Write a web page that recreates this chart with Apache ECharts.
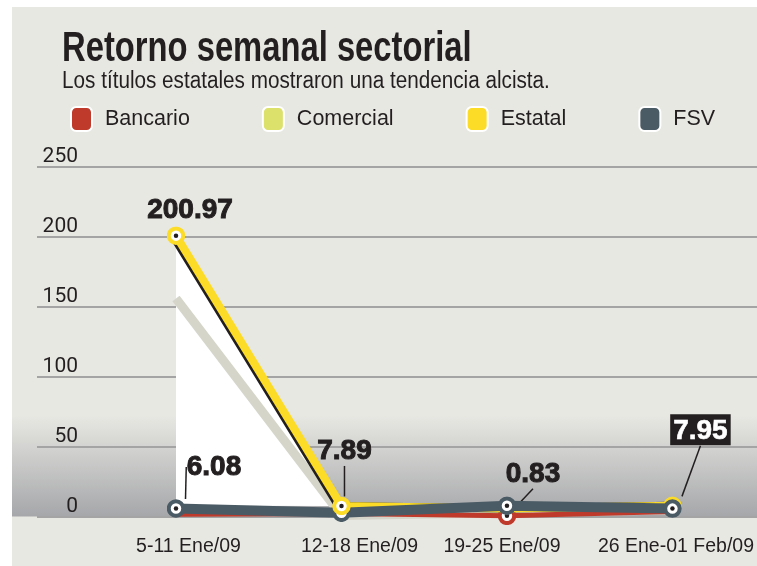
<!DOCTYPE html>
<html><head><meta charset="utf-8">
<script src="https://cdn.jsdelivr.net/npm/echarts@6/dist/echarts.min.js"></script>
<style>
html,body{margin:0;padding:0;background:#fff;}
#panel{position:absolute;left:12px;top:7px;right:0;bottom:0;
background:linear-gradient(to bottom,#e8e8e3 0px,#e8e8e3 408px,#a6a7aa 509px,#e8e8e3 510px,#e8e8e3 100%);}
#chart{position:absolute;left:0;top:0;width:757px;height:566px;}
</style></head>
<body><div id="panel"></div><div id="chart"></div>
<script>
const categories = ['5-11 Ene/09', '12-18 Ene/09', '19-25 Ene/09', '26 Ene-01 Feb/09'];
const bancario  = [2, 2.5, 0.83, 4];
const comercial = [156, 1, 3, 5];
const estatal   = [200.97, 7.89, 6, 7.95];
const fsv       = [6.08, 3, 8, 6];
const yMin = 0, yMax = 250, yStep = 50;
const titleText = 'Retorno semanal sectorial';
const subtitleText = 'Los títulos estatales mostraron una tendencia alcista.';

const INK = '#231f20';
const colors = {Bancario:'#bf3a2b', Comercial:'#dbe16a', Estatal:'#fcdc27', FSV:'#4b5b65'};

function ring(color){
  const svg = '<svg xmlns="http://www.w3.org/2000/svg" width="38" height="38" viewBox="0 0 38 38">' +
    '<circle cx="19" cy="19" r="14.5" fill="#fff" stroke="' + color + '" stroke-width="8"/>' +
    '<circle cx="19" cy="19" r="4.5" fill="' + INK + '"/></svg>';
  return 'image://data:image/svg+xml;charset=utf-8,' + encodeURIComponent(svg);
}
const numLabel = {
  show: true, position: 'top', formatter: '{c}', color: INK,
  fontFamily: 'Liberation Sans, Arial, sans-serif', fontWeight: 'bold', fontSize: 28,
  textBorderColor: INK, textBorderWidth: 1
};
function items(arr, opts){
  return arr.map((v, i) => {
    const s = opts[i] || {};
    if (s.hide) return '-';
    const o = {value: v};
    if (s.noSymbol) o.symbol = 'none';
    if (s.label) o.label = Object.assign({}, numLabel, s.label);
    if (s.noGuide) o.labelLine = {show: false};
    return o;
  });
}
const shifts = {
  Estatal: {0:[14,3], 1:[3,-26], 3:[28,-46]},
  FSV: {0:[38,-13]},
  Bancario: {2:[26,-13]}
};
function layoutFor(name){
  return function(p){
    const s = shifts[name][p.dataIndex];
    return s ? {dx: s[0], dy: s[1]} : {};
  };
}
const guide = {show: true, lineStyle: {color: INK, width: 1.5}};
const ringSize = 19;
const xFont = {fontFamily: 'Liberation Sans, Arial, sans-serif', fontSize: 19.5, color: INK};
const xRich = {
  c0: Object.assign({padding: [0,0,0,25]}, xFont),
  c1: Object.assign({padding: [0,0,0,36]}, xFont),
  c2: Object.assign({padding: [0,10,0,0]}, xFont),
  c3: Object.assign({padding: [0,0,0,7]}, xFont)
};

const chart = echarts.init(document.getElementById('chart'), null, {renderer: 'canvas'});
chart.setOption({
  animation: false,
  graphic: [
    {type: 'text', x: 62, y: 28, scaleX: 0.78, z: 10,
     style: {text: titleText, fill: INK, font: 'bold 42px "Liberation Sans", Arial, sans-serif', textVerticalAlign: 'top'}},
    {type: 'text', x: 62, y: 70, scaleX: 0.9, z: 10,
     style: {text: subtitleText, fill: INK, font: '23px "Liberation Sans", Arial, sans-serif', textVerticalAlign: 'top'}}
  ],
  legend: {
    left: 70, top: 106, icon: 'roundRect', itemWidth: 21, itemHeight: 24, itemGap: 72, padding: 0,
    itemStyle: {borderColor: '#fff', borderWidth: 2},
    textStyle: {fontFamily: 'Liberation Sans, Arial, sans-serif', fontSize: 21.5, color: INK, padding: [0,0,0,8]},
    data: ['Bancario', 'Comercial', 'Estatal', 'FSV']
  },
  grid: [
    {left: 176, right: 84, top: 167, bottom: 49},
    {left: 37, right: 0, top: 167, bottom: 49}
  ],
  xAxis: [
    {type: 'category', gridIndex: 0, data: categories, boundaryGap: false,
     axisLine: {show: false}, axisTick: {show: false},
     axisLabel: Object.assign({interval: 0, margin: 20,
       formatter: (v, i) => '{c' + i + '|' + v + '}', rich: xRich}, xFont)},
    {type: 'value', gridIndex: 1, min: 0, max: 1, show: false}
  ],
  yAxis: [
    {type: 'value', gridIndex: 0, min: yMin, max: yMax, interval: yStep, show: false},
    {type: 'value', gridIndex: 1, min: yMin, max: yMax, interval: yStep,
     axisLine: {show: false}, axisTick: {show: false},
     splitLine: {show: true, lineStyle: {color: '#a4a4a4', width: 2}},
     axisLabel: {inside: true, margin: 41, align: 'right', verticalAlign: 'bottom', padding: [0,0,0,0],
       fontFamily: 'Roboto, Liberation Sans, sans-serif', fontSize: 21, color: INK}}
  ],
  series: [
    {name: 'EstatalArea', type: 'line', xAxisIndex: 0, yAxisIndex: 0, z: 1, silent: true,
     data: estatal.map((v, i) => i < 2 ? v : '-'), symbol: 'none',
     lineStyle: {width: 0}, areaStyle: {color: '#ffffff', opacity: 1, origin: 8}},
    {name: 'Comercial', type: 'line', xAxisIndex: 0, yAxisIndex: 0, z: 2, clip: false,
     data: comercial, symbol: 'none',
     itemStyle: {color: colors.Comercial}, lineStyle: {color: '#d5d5ca', width: 9}},
    {name: 'Bancario', type: 'line', xAxisIndex: 0, yAxisIndex: 0, z: 3, clip: false,
     data: items(bancario, {0:{noSymbol:1}, 1:{noSymbol:1}, 2:{label:{}}, 3:{noSymbol:1}}),
     symbol: ring(colors.Bancario), symbolSize: ringSize,
     itemStyle: {color: colors.Bancario}, lineStyle: {color: colors.Bancario, width: 5},
     labelLayout: layoutFor('Bancario'), labelLine: guide},
    {name: 'Estatal', type: 'line', xAxisIndex: 0, yAxisIndex: 0, z: 4, clip: false,
     data: items(estatal, {0:{noSymbol:1}, 1:{noSymbol:1}, 2:{noSymbol:1},
        3:{label:{color:'#fff', textBorderColor:'#fff', textBorderWidth:0.6, backgroundColor: INK, padding:[3,3,0,3], fontSize: 28}}}),
     symbol: ring(colors.Estatal), symbolSize: ringSize,
     itemStyle: {color: colors.Estatal},
     lineStyle: {color: colors.Estatal, width: 8, shadowColor: INK, shadowBlur: 0, shadowOffsetX: -3, shadowOffsetY: 0},
     labelLayout: layoutFor('Estatal'), labelLine: guide},
    {name: 'FSV', type: 'line', xAxisIndex: 0, yAxisIndex: 0, z: 5, clip: false,
     data: items(fsv, {0:{label:{}}}),
     symbol: ring(colors.FSV), symbolSize: ringSize,
     itemStyle: {color: colors.FSV}, lineStyle: {color: colors.FSV, width: 10},
     labelLayout: layoutFor('FSV'), labelLine: guide},
    {name: 'EstatalMarks', type: 'scatter', xAxisIndex: 0, yAxisIndex: 0, z: 6, clip: false,
     data: items(estatal, {0:{label:{}, noGuide:1}, 1:{label:{}}, 2:{hide:1}, 3:{hide:1}}),
     symbol: ring(colors.Estatal), symbolSize: ringSize,
     itemStyle: {color: colors.Estatal, opacity: 1},
     labelLayout: layoutFor('Estatal'), labelLine: guide}
  ]
});
</script></body></html>
